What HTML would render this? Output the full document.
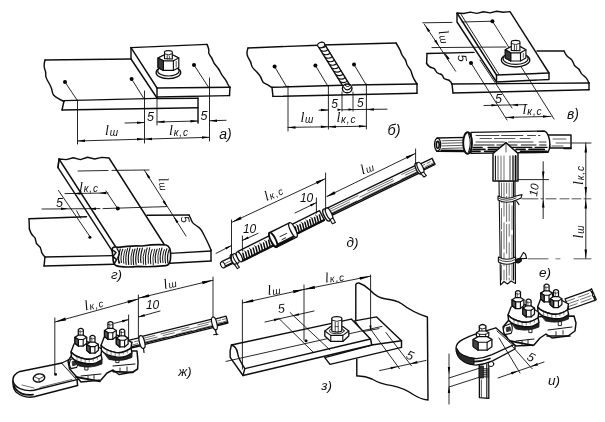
<!DOCTYPE html>
<html lang="ru"><head><meta charset="utf-8"><title>Соединения шин и жил кабелей</title>
<style>
html,body{margin:0;padding:0;background:#fff;}
body{width:605px;height:422px;overflow:hidden;}
svg{display:block;}
svg text{font-family:"Liberation Sans","DejaVu Sans",sans-serif;font-style:italic;fill:#111;stroke:none;}
</style></head><body>
<svg width="605" height="422" viewBox="0 0 605 422">
<defs><filter id="b" x="-2%" y="-2%" width="104%" height="104%"><feGaussianBlur stdDeviation="0.45"/></filter></defs>
<rect width="605" height="422" fill="#fff"/>
<g fill="none" stroke="#111" stroke-linecap="round" stroke-linejoin="round" filter="url(#b)">
<path d="M131,59 L45,60" fill="none" stroke-width="1.45"/>
<path d="M45,60 Q43.4,66 44.7,69 Q46,72 45.7,74.5 Q45.4,77 47.2,80 Q49,83 50.5,86 Q52,89 52.3,92 Q52.6,95 55.3,96.7 Q58,98.4 61,100 L64,101.5" fill="none" stroke-width="1.45"/>
<line x1="64" y1="101" x2="62" y2="110" stroke-width="1.45"/>
<line x1="64" y1="100.6" x2="157" y2="98.4" stroke-width="1.45"/>
<line x1="62" y1="110" x2="198" y2="107.8" stroke-width="1.45"/>
<line x1="157" y1="98.6" x2="198" y2="98.2" stroke-width="1.45"/>
<line x1="131" y1="47.6" x2="207" y2="44.4" stroke-width="1.45"/>
<path d="M207,44.4 Q209.4,50 208.7,51.5 Q208,53 210,55.5 Q212,58 212.8,60.5 Q213.6,63 216.3,66 Q219,69 220.3,72 Q221.6,75 223.8,77.5 Q226,80 226.8,82 Q227.6,84 228.8,85.8 L230,87.5" fill="none" stroke-width="1.45"/>
<line x1="131" y1="47.6" x2="157" y2="88" stroke-width="1.45"/>
<line x1="131" y1="47.6" x2="131" y2="59" stroke-width="1.45"/>
<line x1="131" y1="59" x2="157" y2="98" stroke-width="1.45"/>
<line x1="157" y1="88" x2="230" y2="87.2" stroke-width="1.45"/>
<line x1="157" y1="97" x2="229.5" y2="95.6" stroke-width="1.45"/>
<line x1="230" y1="87.2" x2="229.5" y2="95.6" stroke-width="1.45"/>
<line x1="157" y1="88" x2="157" y2="97" stroke-width="1.45"/>
<ellipse cx="168.4" cy="72.4" rx="12.3" ry="6.2" fill="#fff" stroke-width="1.3499999999999999"/>
<ellipse cx="168.4" cy="71" rx="10.7" ry="5" fill="#fff" stroke-width="1.15"/>
<polygon points="158,58 158,67.6 163.4,70.4 173.4,70.4 178.8,67.6 178.8,58 173.4,55.2 163.4,55.2" fill="#fff" stroke-width="1.15"/>
<polygon points="158,58 163.4,55.2 173.4,55.2 178.8,58 173.4,60.8 163.4,60.8" fill="#fff" stroke-width="1.15"/>
<line x1="163.4" y1="60.8" x2="163.4" y2="70.4" stroke-width="1.15"/>
<line x1="173.4" y1="60.8" x2="173.4" y2="70.4" stroke-width="1.15"/>
<polygon points="158,58 163.4,60.8 163.4,70.4 158,67.6" fill="#3a3a3a" stroke-width="1.15"/>
<line x1="176.2" y1="61.4" x2="176.2" y2="67" stroke-width="0.7"/>
<path d="M164.5,58.6 L164.5,52.2 Q164.5,50.6 168.4,50.6 Q172.3,50.6 172.3,52.2 L172.3,59 Z" fill="#fff" stroke-width="1.15"/>
<path d="M164.5,53.8 Q168.4,56.2 172.3,53.8" fill="none" stroke-width="0.9199999999999999"/>
<line x1="167.2" y1="55.6" x2="167.2" y2="59" stroke-width="0.8049999999999999"/>
<line x1="169.4" y1="56" x2="169.4" y2="59" stroke-width="0.69"/>
<circle cx="65" cy="82" r="2.0" fill="#000" stroke="none"/>
<line x1="65" y1="82" x2="77" y2="100" stroke-width="0.9"/>
<circle cx="131.6" cy="79" r="2.0" fill="#000" stroke="none"/>
<line x1="131.6" y1="79" x2="143.5" y2="98" stroke-width="0.9"/>
<circle cx="194" cy="65" r="2.0" fill="#000" stroke="none"/>
<line x1="194" y1="65" x2="209" y2="88" stroke-width="0.9"/>
<line x1="77.5" y1="100" x2="77.5" y2="144" stroke-width="0.9"/>
<line x1="144.5" y1="91" x2="144.5" y2="143" stroke-width="0.9"/>
<line x1="157" y1="97" x2="157" y2="125" stroke-width="0.9"/>
<line x1="198" y1="98" x2="198" y2="123" stroke-width="1.45"/>
<line x1="209.5" y1="78" x2="209.5" y2="141" stroke-width="0.9"/>
<line x1="125" y1="123" x2="144.5" y2="122.5" stroke-width="0.9"/>
<polygon points="144.5,122.5 137,123.9 137,121.4" fill="#000" stroke="none"/>
<line x1="157" y1="122" x2="198" y2="121" stroke-width="0.9"/>
<polygon points="157,122 164.5,120.6 164.5,123.1" fill="#000" stroke="none"/>
<polygon points="198,121 190.5,122.4 190.5,119.9" fill="#000" stroke="none"/>
<line x1="209.5" y1="120.8" x2="226" y2="120.3" stroke-width="0.9"/>
<polygon points="209.5,120.8 217,119.4 217,121.9" fill="#000" stroke="none"/>
<line x1="77.5" y1="141" x2="209.5" y2="137.3" stroke-width="0.9"/>
<polygon points="77.5,141 85,139.6 85,142.1" fill="#000" stroke="none"/>
<polygon points="144.5,139.1 137,140.5 137,138" fill="#000" stroke="none"/>
<polygon points="144.5,139.1 152,137.7 152,140.2" fill="#000" stroke="none"/>
<polygon points="209.5,137.3 202,138.7 202,136.2" fill="#000" stroke="none"/>
<text x="150.5" y="121" font-size="12.5" text-anchor="middle">5</text>
<text x="204" y="120.4" font-size="12.5" text-anchor="middle">5</text>
<text x="105" y="135.3" font-size="13" text-anchor="start"><tspan font-family="Liberation Serif, serif" font-size="14">l</tspan><tspan font-size="10" dx="0.8" dy="0.6" letter-spacing="0.9">ш</tspan></text>
<text x="169" y="135.3" font-size="13" text-anchor="start"><tspan font-family="Liberation Serif, serif" font-size="14">l</tspan><tspan font-size="10" dx="0.8" dy="0.6" letter-spacing="0.9">к,с</tspan></text>
<text x="225.5" y="139.2" font-size="14" text-anchor="middle">а)</text>
<line x1="248" y1="48" x2="318" y2="45.2" stroke-width="1.45"/>
<line x1="322" y1="45" x2="396" y2="43" stroke-width="1.45"/>
<path d="M248,48 Q246.6,52 247.1,54.5 Q247.6,57 249.3,59.5 Q251,62 251.3,64.5 Q251.6,67 254.3,69.5 Q257,72 259,74.5 Q261,77 261.8,79.7 Q262.6,82.4 265.3,83.7 Q268,85 270,86.3 L272,87.6" fill="none" stroke-width="1.45"/>
<line x1="272" y1="87.5" x2="273" y2="96.4" stroke-width="1.45"/>
<path d="M396,43 Q400.4,50 401,52.5 Q401.6,55 403.8,57.5 Q406,60 406.3,62.5 Q406.6,65 408.8,67.5 Q411,70 411.8,73.5 Q412.6,77 414.8,80.5 L417,84" fill="none" stroke-width="1.45"/>
<line x1="272" y1="87.3" x2="342" y2="85.2" stroke-width="1.45"/>
<line x1="352" y1="85" x2="417" y2="84" stroke-width="1.45"/>
<line x1="273" y1="96.4" x2="417" y2="93.2" stroke-width="1.45"/>
<line x1="417" y1="84" x2="417" y2="93.2" stroke-width="1.45"/>
<line x1="321.6" y1="45.6" x2="346.6" y2="86" stroke-width="8" stroke="#111"/>
<line x1="321.6" y1="45.6" x2="346.6" y2="86" stroke-width="5.2" stroke="#fff"/>
<path d="M318.7,47 Q322.4,48.9 325.8,46.3" fill="none" stroke-width="1.1"/>
<path d="M320.8,50.5 Q324.6,52.4 328,49.8" fill="none" stroke-width="1.1"/>
<path d="M323,53.9 Q326.8,55.8 330.1,53.3" fill="none" stroke-width="1.1"/>
<path d="M325.1,57.4 Q328.9,59.3 332.3,56.8" fill="none" stroke-width="1.1"/>
<path d="M327.3,60.9 Q331.1,62.8 334.4,60.3" fill="none" stroke-width="1.1"/>
<path d="M329.5,64.4 Q333.2,66.3 336.6,63.7" fill="none" stroke-width="1.1"/>
<path d="M331.6,67.9 Q335.4,69.8 338.7,67.2" fill="none" stroke-width="1.1"/>
<path d="M333.8,71.3 Q337.5,73.3 340.9,70.7" fill="none" stroke-width="1.1"/>
<path d="M335.9,74.8 Q339.7,76.7 343.1,74.2" fill="none" stroke-width="1.1"/>
<path d="M338.1,78.3 Q341.8,80.2 345.2,77.7" fill="none" stroke-width="1.1"/>
<path d="M340.2,81.8 Q344,83.7 347.4,81.1" fill="none" stroke-width="1.1"/>
<path d="M342.4,85.3 Q346.2,87.2 349.5,84.6" fill="none" stroke-width="1.1"/>
<ellipse cx="321.2" cy="45" rx="3.6" ry="2.6" fill="#fff" stroke-width="1.1" transform="rotate(-15 321.2 45)"/>
<ellipse cx="347.2" cy="88.4" rx="4.8" ry="4.4" fill="#fff" stroke-width="1.4"/>
<path d="M343.6,87 Q347,92.5 351,87.6" fill="none" stroke-width="1.1"/>
<path d="M344.6,84.6 Q347.4,88.6 350.4,85" fill="none" stroke-width="1.0"/>
<circle cx="274.6" cy="66.6" r="2.0" fill="#000" stroke="none"/>
<line x1="274.6" y1="66.6" x2="286.6" y2="86.8" stroke-width="0.9"/>
<circle cx="315.4" cy="65.4" r="2.0" fill="#000" stroke="none"/>
<line x1="315.4" y1="65.4" x2="327.8" y2="86" stroke-width="0.9"/>
<circle cx="354" cy="64.6" r="2.0" fill="#000" stroke="none"/>
<line x1="354" y1="64.6" x2="365.8" y2="84.2" stroke-width="0.9"/>
<line x1="288" y1="86" x2="288" y2="131" stroke-width="0.9"/>
<line x1="328.4" y1="86" x2="328.4" y2="129" stroke-width="0.9"/>
<line x1="342" y1="92" x2="342" y2="111" stroke-width="0.9"/>
<line x1="353" y1="92" x2="353" y2="111" stroke-width="0.9"/>
<line x1="366.4" y1="84" x2="366.4" y2="129" stroke-width="0.9"/>
<line x1="319" y1="110.2" x2="328.4" y2="110" stroke-width="0.9"/>
<polygon points="328.4,110 320.9,111.2 320.9,108.8" fill="#000" stroke="none"/>
<line x1="342" y1="109.8" x2="366.4" y2="109.4" stroke-width="0.9"/>
<polygon points="342,109.8 337.5,111 337.5,108.5" fill="#000" stroke="none"/>
<polygon points="353,109.6 348.5,110.8 348.5,108.3" fill="#000" stroke="none"/>
<line x1="366.4" y1="109.4" x2="387" y2="109.2" stroke-width="0.9"/>
<polygon points="366.4,109.4 373.9,108.2 373.9,110.7" fill="#000" stroke="none"/>
<line x1="288" y1="127.4" x2="366.4" y2="126.2" stroke-width="0.9"/>
<polygon points="288,127.4 295.5,126.2 295.5,128.7" fill="#000" stroke="none"/>
<polygon points="328.4,126.8 320.9,128.1 320.9,125.5" fill="#000" stroke="none"/>
<polygon points="328.4,126.8 335.9,125.5 335.9,128.1" fill="#000" stroke="none"/>
<polygon points="366.4,126.2 358.9,127.5 358.9,125" fill="#000" stroke="none"/>
<text x="334.7" y="107.6" font-size="12" text-anchor="middle">5</text>
<text x="360.4" y="107.2" font-size="12" text-anchor="middle">5</text>
<text x="300.4" y="122" font-size="13" text-anchor="start"><tspan font-family="Liberation Serif, serif" font-size="14">l</tspan><tspan font-size="10" dx="0.8" dy="0.6" letter-spacing="0.9">ш</tspan></text>
<text x="336.4" y="122" font-size="13" text-anchor="start"><tspan font-family="Liberation Serif, serif" font-size="14">l</tspan><tspan font-size="10" dx="0.8" dy="0.6" letter-spacing="0.9">к,с</tspan></text>
<text x="394" y="135" font-size="14.5" text-anchor="middle">б)</text>
<path d="M426.6,63.5 Q429.4,67.5 432.1,67.8 Q434.8,68.2 435.7,70.8 Q436.6,73.4 439.3,73.7 Q442.1,73.9 443,76.6 Q443.8,79.3 446.6,79.5 Q449.4,79.8 450.7,81.9 L452,84" fill="none" stroke-width="1.45"/>
<line x1="427" y1="53.5" x2="426.6" y2="63.5" stroke-width="1.45"/>
<line x1="427" y1="53.5" x2="474" y2="52.4" stroke-width="1.45"/>
<line x1="452" y1="84" x2="453" y2="93" stroke-width="1.45"/>
<line x1="452" y1="84" x2="589" y2="83" stroke-width="1.45"/>
<line x1="453" y1="93" x2="589" y2="89.8" stroke-width="1.45"/>
<line x1="589" y1="83" x2="589" y2="89.8" stroke-width="1.45"/>
<line x1="537" y1="51" x2="564" y2="51" stroke-width="1.45"/>
<path d="M564,51 Q566.4,56.5 569.4,57.8 Q572.3,59.2 573.1,62.3 Q573.8,65.4 576.4,67.1 Q579.1,68.7 580.2,71.5 Q581.3,74.3 583.9,75.9 Q586.5,77.6 587.7,80.3 L589,83" fill="none" stroke-width="1.45"/>
<polygon points="457,13 463.6,13.5 470.2,12.1 476.9,13.4 483.5,11.8 490.1,12.9 496.7,11.2 503.4,12.3 510,11.6 549,73 549,79.5 496.5,82 457,22" fill="#fff" stroke-width="1.45"/>
<line x1="457" y1="13" x2="496.5" y2="75" stroke-width="1.45"/>
<line x1="460.5" y1="13.5" x2="499" y2="74.5" stroke-width="0.9"/>
<line x1="496.5" y1="75" x2="549" y2="73" stroke-width="1.45"/>
<line x1="496.5" y1="75" x2="496.5" y2="82" stroke-width="1.45"/>
<line x1="422.8" y1="22.8" x2="452" y2="22.4" stroke-width="0.9"/>
<line x1="462" y1="22" x2="492.4" y2="21.2" stroke-width="0.9"/>
<line x1="432" y1="47.6" x2="506" y2="47" stroke-width="0.9"/>
<circle cx="492.4" cy="21.2" r="2.0" fill="#000" stroke="none"/>
<line x1="492.4" y1="21.2" x2="554" y2="119" stroke-width="0.9"/>
<circle cx="471" cy="63" r="2.0" fill="#000" stroke="none"/>
<line x1="471" y1="63" x2="507" y2="120" stroke-width="0.9"/>
<line x1="480" y1="60" x2="512" y2="108" stroke-width="0.9"/>
<ellipse cx="515.6" cy="60" rx="14.2" ry="7" fill="#fff" stroke-width="1.3499999999999999"/>
<ellipse cx="515.6" cy="58.6" rx="12.6" ry="5.8" fill="#fff" stroke-width="1.15"/>
<polygon points="505.3,49.8 505.3,58 510.7,61 520.5,61 525.9,58 525.9,49.8 520.5,46.8 510.7,46.8" fill="#fff" stroke-width="1.15"/>
<polygon points="505.3,49.8 510.7,46.8 520.5,46.8 525.9,49.8 520.5,52.8 510.7,52.8" fill="#fff" stroke-width="1.15"/>
<line x1="510.7" y1="52.8" x2="510.7" y2="61" stroke-width="1.15"/>
<line x1="520.5" y1="52.8" x2="520.5" y2="61" stroke-width="1.15"/>
<polygon points="505.3,49.8 510.7,52.8 510.7,61 505.3,58" fill="#3a3a3a" stroke-width="1.15"/>
<line x1="523.3" y1="53.4" x2="523.3" y2="57.4" stroke-width="0.7"/>
<path d="M511.3,50.4 L511.3,41.9 Q511.3,40.3 515.6,40.3 Q519.9,40.3 519.9,41.9 L519.9,50.8 Z" fill="#fff" stroke-width="1.15"/>
<path d="M511.3,43.5 Q515.6,45.9 519.9,43.5" fill="none" stroke-width="0.9199999999999999"/>
<line x1="514.4" y1="45.3" x2="514.4" y2="50.8" stroke-width="0.8049999999999999"/>
<line x1="516.6" y1="45.7" x2="516.6" y2="50.8" stroke-width="0.69"/>
<line x1="424.3" y1="24.2" x2="455.6" y2="71.2" stroke-width="0.9"/>
<polygon points="425,25.2 430.2,30.7 428.1,32.1" fill="#000" stroke="none"/>
<polygon points="439,46.2 434.1,41.1 436.2,39.7" fill="#000" stroke="none"/>
<polygon points="443.6,51.6 449.6,58.4 447.6,59.8" fill="#000" stroke="none"/>
<text x="438.4" y="31.6" font-size="13" text-anchor="start" transform="rotate(75 438.4 31.6)"><tspan font-family="Liberation Serif, serif" font-size="14">l</tspan><tspan font-size="10" dx="0.8" dy="0.6" letter-spacing="0.9">ш</tspan></text>
<text x="458" y="58.6" font-size="12.5" text-anchor="middle" transform="rotate(82 458 58.6)">5</text>
<line x1="484" y1="105.5" x2="527" y2="104.6" stroke-width="0.9"/>
<polygon points="497.5,105.2 491.5,106.5 491.5,104" fill="#000" stroke="none"/>
<polygon points="512,104.9 518,103.7 518,106.2" fill="#000" stroke="none"/>
<line x1="506" y1="117.4" x2="551" y2="116.4" stroke-width="0.9"/>
<polygon points="506.5,117.4 514,116.2 514,118.7" fill="#000" stroke="none"/>
<polygon points="550.5,116.4 543,117.7 543,115.2" fill="#000" stroke="none"/>
<text x="498.6" y="103.2" font-size="12.5" text-anchor="middle">5</text>
<text x="522.6" y="114" font-size="13" text-anchor="start"><tspan font-family="Liberation Serif, serif" font-size="14">l</tspan><tspan font-size="10" dx="0.8" dy="0.6" letter-spacing="0.9">к,с</tspan></text>
<text x="573" y="119.4" font-size="14" text-anchor="middle">в)</text>
<path d="M29.4,229 Q31,234.2 33.3,236 Q35.7,237.7 35.7,240.8 Q35.8,243.8 38.3,245.4 Q40.8,247.1 41.1,250 Q41.3,252.9 43.2,255 L45,257" fill="none" stroke-width="1.45"/>
<line x1="29" y1="218.8" x2="29.4" y2="229" stroke-width="1.45"/>
<line x1="29" y1="218.8" x2="86.5" y2="216.8" stroke-width="1.45"/>
<line x1="45" y1="257" x2="44" y2="266" stroke-width="1.45"/>
<line x1="45" y1="257" x2="113" y2="255.6" stroke-width="1.45"/>
<line x1="44" y1="266" x2="114" y2="264.2" stroke-width="1.45"/>
<line x1="147" y1="215.2" x2="189" y2="215" stroke-width="1.45"/>
<path d="M189,215 Q191,219 191.7,221 Q192.4,223 194.7,224.5 Q197,226 198.8,227.3 Q200.6,228.6 201.8,230.8 Q203,233 204,235 Q205,237 206.5,240 Q208,243 209.5,246.5 L211,250" fill="none" stroke-width="1.45"/>
<line x1="170" y1="253.4" x2="211" y2="251" stroke-width="1.45"/>
<line x1="170" y1="263.2" x2="211" y2="261" stroke-width="1.45"/>
<line x1="211" y1="250" x2="211" y2="261" stroke-width="1.45"/>
<polygon points="59,159 66.2,159.6 73.3,157.7 80.4,159.6 87.5,157.3 94.7,159 101.8,157.4 109,158 169,252 113,252.2 58,167.7" fill="#fff" stroke-width="1.45"/>
<line x1="59" y1="159" x2="116.4" y2="248" stroke-width="1.45"/>
<line x1="59" y1="159" x2="58" y2="167.7" stroke-width="1.45"/>
<path d="M112,250 Q112,246 118,247.4 Q130,245.4 142,246 Q156,244 166,245 Q171,246.4 170.6,256 Q170.6,265 166,265.6 Q150,267.4 138,266.4 Q128,267.6 119,266.4 Q112.6,266 113,257 Z" fill="#fff" stroke-width="1.65"/>
<path d="M120.3,249 Q117.7,257.4 118.9,263.1" fill="none" stroke-width="1.182735085133115"/>
<path d="M122.8,249.2 Q120.2,255.1 121.4,262.6" fill="none" stroke-width="1.0396867963134315"/>
<path d="M125.2,249.7 Q122.6,257.7 123.8,263.3" fill="none" stroke-width="0.9339617893959433"/>
<path d="M127.6,248.6 Q125,256.6 126.2,264.4" fill="none" stroke-width="1.0721823563784303"/>
<path d="M130.1,247.6 Q127.5,255.8 128.7,264.4" fill="none" stroke-width="1.1749036115425655"/>
<path d="M132.6,249.3 Q129.9,257.4 131.2,264.6" fill="none" stroke-width="0.941630225519671"/>
<path d="M135,249 Q132.4,255 133.6,264.7" fill="none" stroke-width="1.1614214234172846"/>
<path d="M137.5,248.1 Q134.8,257.9 136.1,264.4" fill="none" stroke-width="1.1617223296310406"/>
<path d="M139.9,248.2 Q137.3,256.6 138.5,262.5" fill="none" stroke-width="1.1033491431751776"/>
<path d="M142.4,248.1 Q139.8,257.1 141,262.6" fill="none" stroke-width="1.1899692936951587"/>
<path d="M144.8,249.6 Q142.2,256.1 143.4,264.2" fill="none" stroke-width="0.9497868171389237"/>
<path d="M147.2,247.9 Q144.6,255.9 145.8,264.8" fill="none" stroke-width="1.0809329992222962"/>
<path d="M149.7,247.6 Q147.1,256 148.3,263.2" fill="none" stroke-width="0.9929873794809386"/>
<path d="M152.2,249.4 Q149.5,255.9 150.8,263.8" fill="none" stroke-width="1.0443655158710592"/>
<path d="M154.6,249.2 Q152,257.9 153.2,264.9" fill="none" stroke-width="0.9068596689758163"/>
<path d="M157.1,249.2 Q154.4,255.1 155.7,262.8" fill="none" stroke-width="1.1363214911941304"/>
<path d="M159.5,248.4 Q156.9,255 158.1,263.5" fill="none" stroke-width="0.9140181356096825"/>
<path d="M162,248 Q159.3,255.6 160.6,262.5" fill="none" stroke-width="1.1267209237353955"/>
<path d="M164.4,249.6 Q161.8,256 163,262.6" fill="none" stroke-width="1.0064379615173737"/>
<path d="M166.9,248.8 Q164.2,255.3 165.5,263" fill="none" stroke-width="1.124519416945399"/>
<path d="M169.3,249.4 Q166.7,255.1 167.9,262.8" fill="none" stroke-width="1.1837400555126552"/>
<path d="M112.6,250 L116,252.6 L113,256.4 L116.6,259.6 L114,264" fill="none" stroke-width="1.5"/>
<path d="M117,248.6 L119.6,253 L117.6,258 L119.6,263" fill="none" stroke-width="1.2"/>
<line x1="78" y1="171" x2="108" y2="170.5" stroke-width="0.9"/>
<line x1="112" y1="170.4" x2="149" y2="170" stroke-width="0.9"/>
<line x1="65" y1="193.6" x2="108" y2="193" stroke-width="0.9"/>
<polygon points="73.5,193.5 80.5,192.2 80.5,194.8" fill="#000" stroke="none"/>
<polygon points="99,193.1 106,191.8 106,194.3" fill="#000" stroke="none"/>
<line x1="42" y1="209" x2="100" y2="208.6" stroke-width="0.9"/>
<line x1="103" y1="208.6" x2="166.4" y2="206.6" stroke-width="0.9"/>
<polygon points="68,208.8 61,210.1 61,207.6" fill="#000" stroke="none"/>
<polygon points="89,208.7 96,207.4 96,209.9" fill="#000" stroke="none"/>
<circle cx="117.8" cy="208.6" r="2.0" fill="#000" stroke="none"/>
<line x1="58.5" y1="190.5" x2="89.9" y2="236.5" stroke-width="0.9"/>
<line x1="106" y1="191" x2="118" y2="209" stroke-width="0.9"/>
<line x1="76.6" y1="210.8" x2="80.7" y2="218.2" stroke-width="0.9"/>
<circle cx="89.9" cy="237.3" r="1.5" fill="#000" stroke="none"/>
<line x1="144.5" y1="170.4" x2="186" y2="236" stroke-width="0.9"/>
<polygon points="145.2,171.6 150.3,177.3 148.2,178.6" fill="#000" stroke="none"/>
<polygon points="167.6,207.4 162.5,201.7 164.6,200.4" fill="#000" stroke="none"/>
<polygon points="173.4,216 178.5,221.7 176.4,223" fill="#000" stroke="none"/>
<text x="79" y="191.5" font-size="13" text-anchor="start"><tspan font-family="Liberation Serif, serif" font-size="14">l</tspan><tspan font-size="10" dx="0.8" dy="0.6" letter-spacing="0.9">к,с</tspan></text>
<text x="59.4" y="207" font-size="12.5" text-anchor="middle">5</text>
<text x="158.6" y="178.4" font-size="13" text-anchor="start" transform="rotate(80 158.6 178.4)"><tspan font-family="Liberation Serif, serif" font-size="14">l</tspan><tspan font-size="10" dx="0.8" dy="0.6" letter-spacing="0.9">ш</tspan></text>
<text x="181" y="220" font-size="12" text-anchor="middle" transform="rotate(80 181 220)">5</text>
<text x="116.5" y="279" font-size="13.5" text-anchor="middle">г)</text>
<polygon points="329.8,216.3 420.8,172.3 417.2,164.7 326.2,208.7" fill="#fff" stroke-width="1.4"/>
<line x1="327.1" y1="210.6" x2="358" y2="195.6" stroke-width="0.6"/>
<line x1="367.7" y1="190.9" x2="392.8" y2="178.9" stroke-width="0.6"/>
<line x1="401.7" y1="174.5" x2="418.1" y2="166.6" stroke-width="0.6"/>
<line x1="328" y1="212.5" x2="349.5" y2="202.1" stroke-width="0.6"/>
<line x1="359.8" y1="197.1" x2="393.5" y2="180.8" stroke-width="0.6"/>
<line x1="405.5" y1="175" x2="419" y2="168.5" stroke-width="0.6"/>
<line x1="328.9" y1="214.4" x2="356.8" y2="200.9" stroke-width="0.6"/>
<line x1="362.6" y1="198.1" x2="392.1" y2="183.8" stroke-width="0.6"/>
<line x1="401.1" y1="179.5" x2="419.9" y2="170.4" stroke-width="0.6"/>
<line x1="329.3" y1="215.2" x2="420.3" y2="171.2" stroke-width="1.3"/>
<polygon points="421.9,170.9 435.1,164.5 432.1,158.3 418.9,164.7" fill="#fff" stroke-width="1.3"/>
<line x1="419.9" y1="166.8" x2="424.7" y2="164.4" stroke-width="0.6"/>
<line x1="427" y1="163.4" x2="430.4" y2="161.7" stroke-width="0.6"/>
<line x1="432.3" y1="160.8" x2="433.1" y2="160.4" stroke-width="0.6"/>
<line x1="420.9" y1="168.8" x2="424.1" y2="167.3" stroke-width="0.6"/>
<line x1="425.5" y1="166.6" x2="429.4" y2="164.7" stroke-width="0.6"/>
<line x1="430.9" y1="164" x2="434.1" y2="162.4" stroke-width="0.6"/>
<line x1="421.5" y1="170" x2="434.7" y2="163.6" stroke-width="1.3"/>
<ellipse cx="418.6" cy="168.6" rx="2.5" ry="6" fill="#fff" stroke-width="1.4" transform="rotate(-26.6 418.6 168.6)"/>
<ellipse cx="420.4" cy="167.8" rx="2.5" ry="6" fill="#fff" stroke-width="1.2" transform="rotate(-26.6 420.4 167.8)"/>
<polygon points="420.6,173.4 424,177 426.4,175.6 423.4,172" fill="#fff" stroke-width="1.1"/>
<polygon points="243,261.2 276.5,244.4 271.5,234.6 238,251.3" fill="#fff" stroke-width="1.3"/>
<line x1="244.6" y1="260" x2="242.9" y2="253.2" stroke-width="1.5"/>
<line x1="247.2" y1="258.7" x2="245.5" y2="251.9" stroke-width="1.5"/>
<line x1="244.4" y1="251.2" x2="244.1" y2="250.6" stroke-width="0.8"/>
<line x1="249.8" y1="257.5" x2="248" y2="250.6" stroke-width="1.5"/>
<line x1="252.3" y1="256.2" x2="250.6" y2="249.4" stroke-width="1.5"/>
<line x1="249.6" y1="248.6" x2="249.3" y2="248" stroke-width="0.8"/>
<line x1="254.9" y1="254.9" x2="253.2" y2="248.1" stroke-width="1.5"/>
<line x1="257.5" y1="253.6" x2="255.8" y2="246.8" stroke-width="1.5"/>
<line x1="254.7" y1="246.1" x2="254.4" y2="245.5" stroke-width="0.8"/>
<line x1="260.1" y1="252.3" x2="258.3" y2="245.5" stroke-width="1.5"/>
<line x1="262.6" y1="251" x2="260.9" y2="244.2" stroke-width="1.5"/>
<line x1="259.9" y1="243.5" x2="259.6" y2="242.9" stroke-width="0.8"/>
<line x1="265.2" y1="249.7" x2="263.5" y2="242.9" stroke-width="1.5"/>
<line x1="267.8" y1="248.4" x2="266.1" y2="241.6" stroke-width="1.5"/>
<line x1="265" y1="240.9" x2="264.7" y2="240.3" stroke-width="0.8"/>
<line x1="270.4" y1="247.2" x2="268.6" y2="240.3" stroke-width="1.5"/>
<line x1="273" y1="245.9" x2="271.2" y2="239" stroke-width="1.5"/>
<line x1="270.2" y1="238.3" x2="269.9" y2="237.7" stroke-width="0.8"/>
<line x1="242.6" y1="260.4" x2="276.1" y2="243.7" stroke-width="1.6"/>
<polygon points="295.5,234.9 324.5,220.4 319.5,210.6 290.5,225.1" fill="#fff" stroke-width="1.3"/>
<line x1="296.9" y1="233.9" x2="295.2" y2="227" stroke-width="1.5"/>
<line x1="299.4" y1="232.7" x2="297.6" y2="225.8" stroke-width="1.5"/>
<line x1="296.6" y1="225.1" x2="296.3" y2="224.5" stroke-width="0.8"/>
<line x1="301.8" y1="231.5" x2="300" y2="224.6" stroke-width="1.5"/>
<line x1="304.2" y1="230.2" x2="302.5" y2="223.4" stroke-width="1.5"/>
<line x1="301.4" y1="222.7" x2="301.1" y2="222.1" stroke-width="0.8"/>
<line x1="306.6" y1="229" x2="304.9" y2="222.2" stroke-width="1.5"/>
<line x1="309" y1="227.8" x2="307.3" y2="221" stroke-width="1.5"/>
<line x1="306.3" y1="220.3" x2="306" y2="219.7" stroke-width="0.8"/>
<line x1="311.4" y1="226.6" x2="309.7" y2="219.8" stroke-width="1.5"/>
<line x1="313.9" y1="225.4" x2="312.1" y2="218.6" stroke-width="1.5"/>
<line x1="311.1" y1="217.9" x2="310.8" y2="217.3" stroke-width="0.8"/>
<line x1="316.3" y1="224.2" x2="314.5" y2="217.4" stroke-width="1.5"/>
<line x1="318.7" y1="223" x2="317" y2="216.2" stroke-width="1.5"/>
<line x1="315.9" y1="215.5" x2="315.6" y2="214.9" stroke-width="0.8"/>
<line x1="321.1" y1="221.8" x2="319.4" y2="215" stroke-width="1.5"/>
<line x1="295.1" y1="234.2" x2="324.1" y2="219.7" stroke-width="1.6"/>
<polygon points="276.2,247.4 296.6,237.2 289.4,222.8 269,233" fill="#fff" stroke-width="1.5"/>
<line x1="275.2" y1="245.4" x2="295.6" y2="235.2" stroke-width="1.3"/>
<ellipse cx="273.2" cy="239.9" rx="2.5" ry="8" fill="#fff" stroke-width="1.8" transform="rotate(-26.6 273.2 239.9)"/>
<ellipse cx="293" cy="230" rx="2.5" ry="8" fill="#fff" stroke-width="1.3" transform="rotate(-26.6 293 230)"/>
<line x1="280" y1="236.6" x2="286.6" y2="233.4" stroke-width="0.9"/>
<line x1="282" y1="239.6" x2="285.6" y2="237.8" stroke-width="0.9"/>
<line x1="276" y1="246.4" x2="293" y2="238" stroke-width="2.0"/>
<polygon points="224.4,267.5 233.4,263.1 230.6,257.3 221.6,261.7" fill="#fff" stroke-width="1.3"/>
<line x1="223" y1="264.6" x2="225.6" y2="263.3" stroke-width="0.6"/>
<line x1="226.4" y1="262.9" x2="228.9" y2="261.7" stroke-width="0.6"/>
<line x1="229.5" y1="261.4" x2="231.3" y2="260.5" stroke-width="0.6"/>
<line x1="224" y1="266.7" x2="233" y2="262.3" stroke-width="1.3"/>
<ellipse cx="222.8" cy="264.8" rx="2" ry="3.2" fill="#fff" stroke-width="1.1" transform="rotate(-26.6 222.8 264.8)"/>
<ellipse cx="233.6" cy="259.6" rx="2.3" ry="5.6" fill="#fff" stroke-width="1.4" transform="rotate(-26.6 233.6 259.6)"/>
<ellipse cx="236" cy="258.4" rx="2" ry="5.2" fill="#fff" stroke-width="1.1" transform="rotate(-26.6 236 258.4)"/>
<ellipse cx="239.4" cy="256.8" rx="2.2" ry="5.4" fill="#fff" stroke-width="1.3" transform="rotate(-26.6 239.4 256.8)"/>
<polygon points="234.4,264.4 237.4,268.6 239.4,267.4 236.6,263.4" fill="#fff" stroke-width="1.1"/>
<ellipse cx="326.6" cy="215" rx="2.6" ry="6.6" fill="#fff" stroke-width="1.4" transform="rotate(-26.6 326.6 215)"/>
<ellipse cx="329" cy="213.8" rx="2.5" ry="6.4" fill="#fff" stroke-width="1.3" transform="rotate(-26.6 329 213.8)"/>
<polygon points="330,219.4 332.4,223.8 335.4,222.6 333,218" fill="#fff" stroke-width="1.1"/>
<line x1="231.5" y1="220" x2="231.5" y2="260" stroke-width="0.9"/>
<line x1="242.4" y1="236" x2="242.4" y2="251" stroke-width="0.9"/>
<line x1="316.4" y1="198" x2="316.4" y2="213" stroke-width="0.9"/>
<line x1="325.6" y1="173" x2="325.6" y2="210" stroke-width="0.9"/>
<line x1="415.6" y1="149" x2="415.6" y2="163" stroke-width="0.9"/>
<line x1="232" y1="222.2" x2="325.6" y2="178.6" stroke-width="0.9"/>
<polygon points="232,222.2 240.4,216.6 241.7,219.3" fill="#000" stroke="none"/>
<polygon points="325.6,178.6 317.2,184.2 315.9,181.5" fill="#000" stroke="none"/>
<line x1="327" y1="196.4" x2="415.4" y2="153.4" stroke-width="0.9"/>
<polygon points="326,196.9 334.3,191.2 335.6,193.9" fill="#000" stroke="none"/>
<polygon points="415.4,153.4 407.1,159.1 405.8,156.4" fill="#000" stroke="none"/>
<line x1="216" y1="253.4" x2="231.5" y2="245.6" stroke-width="0.9"/>
<polygon points="231.5,245.6 226.2,249.6 225.1,247.4" fill="#000" stroke="none"/>
<line x1="242.4" y1="240.4" x2="258" y2="233.4" stroke-width="0.9"/>
<polygon points="242.4,240.4 247.7,236.4 248.8,238.6" fill="#000" stroke="none"/>
<line x1="295" y1="213" x2="316.4" y2="202.6" stroke-width="0.9"/>
<polygon points="316.4,202.6 311.1,206.6 310,204.4" fill="#000" stroke="none"/>
<text x="249.6" y="233.4" font-size="12" text-anchor="middle">10</text>
<text x="306.6" y="202" font-size="12" text-anchor="middle">10</text>
<text x="266.6" y="201" font-size="13" text-anchor="start" transform="rotate(-24 266.6 201)"><tspan font-family="Liberation Serif, serif" font-size="14">l</tspan><tspan font-size="10" dx="0.8" dy="0.6" letter-spacing="0.9">к,с</tspan></text>
<text x="362.6" y="174.5" font-size="13" text-anchor="start" transform="rotate(-22 362.6 174.5)"><tspan font-family="Liberation Serif, serif" font-size="14">l</tspan><tspan font-size="10" dx="0.8" dy="0.6" letter-spacing="0.9">ш</tspan></text>
<text x="352.6" y="247" font-size="13.5" text-anchor="middle">д)</text>
<path d="M437,138 Q434,144.5 437,151.4 L466,151.6 L466,137.4 Z" fill="#fff" stroke-width="1.45"/>
<ellipse cx="437.6" cy="144.6" rx="3" ry="6.4" fill="#fff" stroke-width="1.4"/>
<ellipse cx="437.8" cy="144.8" rx="1.4" ry="3.4" fill="#fff" stroke-width="1.6"/>
<line x1="442" y1="140.8" x2="464" y2="140.2" stroke-width="0.7"/>
<line x1="442" y1="143.3" x2="464" y2="142.7" stroke-width="0.7"/>
<line x1="442" y1="145.9" x2="464" y2="145.3" stroke-width="0.7"/>
<line x1="442" y1="148.5" x2="464" y2="147.9" stroke-width="0.7"/>
<line x1="441" y1="150.2" x2="466" y2="150.4" stroke-width="1.4"/>
<polygon points="548,135 571,135 571,148 550,148" fill="#fff" stroke-width="1.45"/>
<line x1="553" y1="139" x2="566" y2="139" stroke-width="0.7"/>
<line x1="556" y1="143" x2="570" y2="143" stroke-width="0.7"/>
<line x1="552" y1="146" x2="563" y2="146" stroke-width="0.7"/>
<line x1="564" y1="148.4" x2="571" y2="148.4" stroke-width="1.6"/>
<path d="M471,132.4 L544,131 Q548,132 549.5,140 Q550.6,148 548,152.4 L471,153.4 Z" fill="#fff" stroke-width="1.45"/>
<ellipse cx="467.6" cy="143" rx="4.4" ry="10.8" fill="#fff" stroke-width="1.9"/>
<path d="M468.6,134 Q472,143 468.6,152" fill="none" stroke-width="1.1"/>
<line x1="476" y1="135.5" x2="498.9" y2="135.5" stroke-width="0.8"/>
<line x1="501.6" y1="135.5" x2="522.8" y2="135.5" stroke-width="0.8"/>
<line x1="527.5" y1="135.5" x2="535.5" y2="135.5" stroke-width="0.8"/>
<line x1="538.5" y1="135.5" x2="540" y2="135.5" stroke-width="0.8"/>
<line x1="480" y1="138.5" x2="491.4" y2="138.5" stroke-width="0.7"/>
<line x1="494.4" y1="138.5" x2="514.8" y2="138.5" stroke-width="0.7"/>
<line x1="520.2" y1="138.5" x2="530" y2="138.5" stroke-width="0.7"/>
<line x1="476" y1="142" x2="504.4" y2="142" stroke-width="0.8"/>
<line x1="508.5" y1="142" x2="533" y2="142" stroke-width="0.8"/>
<line x1="539.2" y1="142" x2="546" y2="142" stroke-width="0.8"/>
<line x1="474" y1="145" x2="494.1" y2="145" stroke-width="1.0"/>
<line x1="496.9" y1="145" x2="517" y2="145" stroke-width="1.0"/>
<line x1="521.3" y1="145" x2="536" y2="145" stroke-width="1.0"/>
<line x1="539.6" y1="145" x2="546" y2="145" stroke-width="1.0"/>
<line x1="473" y1="147.4" x2="482.2" y2="147.4" stroke-width="1.3"/>
<line x1="488" y1="147.4" x2="505.3" y2="147.4" stroke-width="1.3"/>
<line x1="508.7" y1="147.4" x2="531.8" y2="147.4" stroke-width="1.3"/>
<line x1="535.1" y1="147.4" x2="547" y2="147.4" stroke-width="1.3"/>
<line x1="473" y1="149.4" x2="484.9" y2="149.4" stroke-width="1.7"/>
<line x1="488.4" y1="149.4" x2="509.8" y2="149.4" stroke-width="1.7"/>
<line x1="516.1" y1="149.4" x2="525.1" y2="149.4" stroke-width="1.7"/>
<line x1="529" y1="149.4" x2="544.3" y2="149.4" stroke-width="1.7"/>
<line x1="472" y1="151.4" x2="480" y2="151.4" stroke-width="1.7"/>
<line x1="484.7" y1="151.4" x2="499.2" y2="151.4" stroke-width="1.7"/>
<line x1="503.9" y1="151.4" x2="516" y2="151.4" stroke-width="1.7"/>
<line x1="520.6" y1="151.4" x2="547" y2="151.4" stroke-width="1.7"/>
<polygon points="499,181 515,181 515.5,283.5 511,281 507.5,284 504,281.5 500.5,285" fill="#fff" stroke-width="1.1"/>
<line x1="501.5" y1="183" x2="501.5" y2="202.3" stroke-width="0.6"/>
<line x1="501.5" y1="208.5" x2="501.5" y2="229.1" stroke-width="0.6"/>
<line x1="501.5" y1="231.6" x2="501.5" y2="258.2" stroke-width="0.6"/>
<line x1="501.5" y1="265.1" x2="501.5" y2="280" stroke-width="0.6"/>
<line x1="504" y1="183" x2="504" y2="216.2" stroke-width="0.6"/>
<line x1="504" y1="222.8" x2="504" y2="248.9" stroke-width="0.6"/>
<line x1="504" y1="253" x2="504" y2="265.6" stroke-width="0.6"/>
<line x1="504" y1="270.1" x2="504" y2="280" stroke-width="0.6"/>
<line x1="506.6" y1="183" x2="506.6" y2="193.3" stroke-width="0.6"/>
<line x1="506.6" y1="196.4" x2="506.6" y2="221.6" stroke-width="0.6"/>
<line x1="506.6" y1="224.5" x2="506.6" y2="253.2" stroke-width="0.6"/>
<line x1="506.6" y1="259.8" x2="506.6" y2="280" stroke-width="0.6"/>
<line x1="509.2" y1="183" x2="509.2" y2="199" stroke-width="0.6"/>
<line x1="509.2" y1="204.1" x2="509.2" y2="221.1" stroke-width="0.6"/>
<line x1="509.2" y1="224.1" x2="509.2" y2="236.2" stroke-width="0.6"/>
<line x1="509.2" y1="242.8" x2="509.2" y2="275.1" stroke-width="0.6"/>
<line x1="509.2" y1="278.2" x2="509.2" y2="280" stroke-width="0.6"/>
<line x1="512" y1="183" x2="512" y2="202.2" stroke-width="0.6"/>
<line x1="512" y1="205.9" x2="512" y2="229.6" stroke-width="0.6"/>
<line x1="512" y1="234.9" x2="512" y2="258.5" stroke-width="0.6"/>
<line x1="512" y1="264.1" x2="512" y2="280" stroke-width="0.6"/>
<line x1="513.6" y1="182" x2="513.6" y2="280" stroke-width="1.2"/>
<path d="M493,181 L493,153.5 L506,142.6 L518,153.5 L518,181 Z" fill="#fff" stroke-width="1.45"/>
<line x1="495.4" y1="156" x2="495.4" y2="180" stroke-width="1.1"/>
<line x1="498" y1="156" x2="498" y2="180" stroke-width="0.7"/>
<line x1="501" y1="156" x2="501" y2="180" stroke-width="0.6"/>
<line x1="504" y1="156" x2="504" y2="180" stroke-width="0.6"/>
<line x1="510" y1="156" x2="510" y2="180" stroke-width="0.8"/>
<line x1="513" y1="156" x2="513" y2="180" stroke-width="1.3"/>
<line x1="515.6" y1="156" x2="515.6" y2="180" stroke-width="1.8"/>
<line x1="506" y1="143.5" x2="506" y2="152" stroke-width="0.7"/>
<path d="M498,196 Q507,200.5 516,196 L522,194.6 L521,198 L516.4,200 Q507,204.5 498,200 Z" fill="#fff" stroke-width="1.1"/>
<path d="M498,198 Q507,202.5 516,198" fill="none" stroke-width="0.8"/>
<line x1="516.6" y1="201" x2="519" y2="204.6" stroke-width="1.2"/>
<path d="M498.4,257 Q507,261.5 515.6,257 L515.6,262 Q507,266.5 498.4,262 Z" fill="#fff" stroke-width="1.1"/>
<path d="M498.4,259.4 Q507,264 515.6,259.4" fill="none" stroke-width="0.8"/>
<ellipse cx="518.5" cy="260.6" rx="3" ry="2" fill="#222" stroke-width="1.2" transform="rotate(-25 518.5 260.6)"/>
<path d="M520,258.6 L523.4,252.4 L525.4,254 L526.6,258.4 Z" fill="#fff" stroke-width="1.1"/>
<line x1="571.6" y1="143" x2="591" y2="143" stroke-width="0.9"/>
<line x1="518" y1="179.6" x2="548.5" y2="179.6" stroke-width="0.9"/>
<line x1="522" y1="198.8" x2="556" y2="198.8" stroke-width="0.75" stroke-dasharray="16 3 2 3"/>
<line x1="560" y1="198.8" x2="591" y2="198.8" stroke-width="0.7" stroke-dasharray="9 3"/>
<line x1="528" y1="258.8" x2="548" y2="258.8" stroke-width="0.7"/>
<line x1="556" y1="258.8" x2="560" y2="258.8" stroke-width="0.6"/>
<line x1="574" y1="258.8" x2="591" y2="258.8" stroke-width="0.7"/>
<line x1="543.2" y1="161.7" x2="543.2" y2="218.6" stroke-width="0.9"/>
<polygon points="543.2,179.6 542,171.6 544.5,171.6" fill="#000" stroke="none"/>
<polygon points="543.2,199.4 544.5,207.4 542,207.4" fill="#000" stroke="none"/>
<line x1="585.8" y1="143" x2="585.8" y2="258.4" stroke-width="0.9"/>
<polygon points="585.8,143.4 587,152.4 584.5,152.4" fill="#000" stroke="none"/>
<polygon points="585.8,196 584.5,187 587,187" fill="#000" stroke="none"/>
<polygon points="585.8,199.6 587,208.6 584.5,208.6" fill="#000" stroke="none"/>
<polygon points="585.8,258.4 584.5,249.4 587,249.4" fill="#000" stroke="none"/>
<text x="538" y="190.4" font-size="11.5" text-anchor="middle" transform="rotate(-82 538 190.4)">10</text>
<text x="583" y="185" font-size="13" text-anchor="start" transform="rotate(-90 583 185)"><tspan font-family="Liberation Serif, serif" font-size="14">l</tspan><tspan font-size="10" dx="0.8" dy="0.6" letter-spacing="0.9">к,с</tspan></text>
<text x="583" y="238.4" font-size="13" text-anchor="start" transform="rotate(-90 583 238.4)"><tspan font-family="Liberation Serif, serif" font-size="14">l</tspan><tspan font-size="10" dx="0.8" dy="0.6" letter-spacing="0.9">ш</tspan></text>
<text x="545" y="277" font-size="13.5" text-anchor="middle">е)</text>
<polygon points="142,345.1 215,327.1 213,318.9 140,336.9" fill="#fff" stroke-width="1.4"/>
<line x1="140.5" y1="339" x2="154.8" y2="335.4" stroke-width="0.6"/>
<line x1="161" y1="333.9" x2="188.8" y2="327.1" stroke-width="0.6"/>
<line x1="197.7" y1="324.9" x2="213.5" y2="321" stroke-width="0.6"/>
<line x1="141" y1="341" x2="156.9" y2="337.1" stroke-width="0.6"/>
<line x1="163.1" y1="335.5" x2="174.3" y2="332.8" stroke-width="0.6"/>
<line x1="181.7" y1="331" x2="208.2" y2="324.4" stroke-width="0.6"/>
<line x1="141.5" y1="343" x2="166.3" y2="336.9" stroke-width="0.6"/>
<line x1="176.1" y1="334.5" x2="191.6" y2="330.7" stroke-width="0.6"/>
<line x1="196.9" y1="329.4" x2="214.5" y2="325" stroke-width="0.6"/>
<line x1="141.7" y1="343.9" x2="214.7" y2="325.9" stroke-width="1.3"/>
<polygon points="214.9,326.4 227.9,323 226.1,316.2 213.1,319.6" fill="#fff" stroke-width="1.3"/>
<line x1="213.7" y1="321.9" x2="215.9" y2="321.3" stroke-width="0.6"/>
<line x1="217.6" y1="320.9" x2="220.8" y2="320" stroke-width="0.6"/>
<line x1="222.5" y1="319.6" x2="226.7" y2="318.5" stroke-width="0.6"/>
<line x1="214.3" y1="324.1" x2="216.7" y2="323.5" stroke-width="0.6"/>
<line x1="217.7" y1="323.2" x2="221.6" y2="322.2" stroke-width="0.6"/>
<line x1="222.9" y1="321.9" x2="226.1" y2="321.1" stroke-width="0.6"/>
<line x1="227.2" y1="320.7" x2="227.3" y2="320.7" stroke-width="0.6"/>
<line x1="214.6" y1="325.4" x2="227.6" y2="322" stroke-width="1.3"/>
<ellipse cx="214.4" cy="323.4" rx="2.4" ry="6.6" fill="#fff" stroke-width="1.2" transform="rotate(-14 214.4 323.4)"/>
<line x1="215.5" y1="330" x2="216.5" y2="334.6" stroke-width="1.3"/>
<line x1="213.6" y1="334.8" x2="218" y2="334.2" stroke-width="1.1"/>
<polygon points="128.9,348.5 141.9,345.5 140.1,337.7 127.1,340.7" fill="#fff" stroke-width="1.3"/>
<line x1="127.7" y1="343.3" x2="132.7" y2="342.1" stroke-width="0.6"/>
<line x1="134.6" y1="341.7" x2="137.3" y2="341.1" stroke-width="0.6"/>
<line x1="138.1" y1="340.9" x2="140.7" y2="340.3" stroke-width="0.6"/>
<line x1="128.3" y1="345.9" x2="131.8" y2="345.1" stroke-width="0.6"/>
<line x1="133.1" y1="344.8" x2="137.7" y2="343.7" stroke-width="0.6"/>
<line x1="139.6" y1="343.3" x2="141.3" y2="342.9" stroke-width="0.6"/>
<line x1="128.6" y1="347.4" x2="141.6" y2="344.4" stroke-width="1.3"/>
<ellipse cx="142" cy="342" rx="2.6" ry="6.6" fill="#fff" stroke-width="1.3" transform="rotate(-14 142 342)"/>
<line x1="143.5" y1="348.5" x2="144" y2="352.5" stroke-width="1.2"/>
<path d="M13,381 Q12,375 20,371.4 L62,363 L77,379.6 L77.6,385.4 L34,396.8 Q24,398.6 16,392 Q12.6,388 13,381 Z" fill="#fff" stroke-width="1.5"/>
<path d="M13,381 Q14,386 20,388.6 Q27,391.6 34,390.2 L77,379.6" fill="none" stroke-width="1.4"/>
<path d="M14,386 Q16,391 22,393.6 Q27,395.4 33,394.6" fill="none" stroke-width="1.8"/>
<path d="M62,363 L68,360 L84,376 L77,379.6" fill="#fff" stroke-width="1.1"/>
<line x1="22" y1="385" x2="34" y2="388" stroke-width="0.6"/>
<line x1="40" y1="387.4" x2="72" y2="379.4" stroke-width="0.6"/>
<ellipse cx="39" cy="378" rx="5.8" ry="4" fill="#fff" stroke-width="1.4" transform="rotate(-10 39 378)"/>
<path d="M34.6,376.6 L39,379 L43.6,376.6 M39,379 L39,381.6" fill="none" stroke-width="0.8"/>
<polygon points="68,361 72,355 84,351 137,351 138,362 137.6,369 133,372 119,374.5 113,370 107,373 101,380 81,382 75,375 69.6,369" fill="#fff" stroke-width="1.5"/>
<line x1="81" y1="376" x2="101" y2="374" stroke-width="1.0"/>
<line x1="113" y1="366" x2="135" y2="364" stroke-width="1.0"/>
<line x1="76" y1="377" x2="100" y2="381.4" stroke-width="1.8"/>
<line x1="113" y1="371.6" x2="133" y2="372.4" stroke-width="1.6"/>
<line x1="88" y1="376" x2="88" y2="380" stroke-width="0.9"/>
<line x1="94" y1="375.5" x2="94" y2="379.5" stroke-width="0.9"/>
<line x1="120" y1="368" x2="120" y2="372" stroke-width="0.9"/>
<line x1="127" y1="367" x2="127" y2="371" stroke-width="0.9"/>
<path d="M70.6,359.6 Q68,364 71,368.6 L76.6,367.4 Q79.6,362 76.6,357.6 Z" fill="#fff" stroke-width="1.1"/>
<polygon points="72.6,361.4 76,360.6 76.6,364.6 73,365.6" fill="#333" stroke-width="0.8"/>
<polygon points="85.2,366 88,366 88,370 85.2,370" fill="#fff" stroke-width="0.9"/>
<polygon points="116.2,358.6 119,358.6 119,362.6 116.2,362.6" fill="#fff" stroke-width="0.9"/>
<path d="M72,357 Q75,362 86,363.5 Q95,365 102,359.5 L102,364 Q91,369 79,366 Z" fill="#222" stroke-width="0.8"/>
<path d="M71,352 L74,344 Q82,339 91,343 L101.8,349 L101,354.7 Q93,360.5 85,359 Q75,357 71,352 Z" fill="#fff" stroke-width="1.4"/>
<path d="M71,352 Q75,357 85,359 Q93,360.5 101,354.7 L102,359.5 Q95,365 86,363.5 Q75,362 71.5,357 Z" fill="#fff" stroke-width="1.4"/>
<line x1="77" y1="356.9" x2="77" y2="359.9" stroke-width="0.5"/>
<line x1="81.1" y1="358.2" x2="81.1" y2="361.2" stroke-width="0.5"/>
<line x1="85.2" y1="359.6" x2="85.2" y2="362.6" stroke-width="0.5"/>
<line x1="89.2" y1="359.1" x2="89.2" y2="362.1" stroke-width="0.5"/>
<line x1="93.2" y1="357.8" x2="93.2" y2="360.8" stroke-width="0.5"/>
<line x1="97.3" y1="356.4" x2="97.3" y2="359.4" stroke-width="0.5"/>
<path d="M78.3,337.3 L78.3,329.6 Q80.8,327 83.3,329.6 L83.3,337.3 Z" fill="#fff" stroke-width="1.25"/>
<line x1="80.1" y1="330.5" x2="80.1" y2="337.3" stroke-width="0.6"/>
<path d="M78.3,331.1 Q80.8,332.9 83.3,331.1" fill="none" stroke-width="0.7"/>
<polygon points="74.9,337.3 78.4,335.1 83.2,335.1 86.7,337.3 86.7,343.2 83.2,346.1 78.4,346.1 74.9,343.2" fill="#fff" stroke-width="1.25"/>
<polyline points="74.9,337.3 78.4,339.5 83.2,339.5 86.7,337.3" fill="none" stroke-width="1.125"/>
<line x1="78.4" y1="339.5" x2="78.4" y2="346.1" stroke-width="1.125"/>
<line x1="83.2" y1="339.5" x2="83.2" y2="346.1" stroke-width="1.125"/>
<polygon points="74.9,337.3 78.4,339.5 78.4,346.1 74.9,343.2" fill="#555" stroke-width="1.25"/>
<path d="M90,344.4 L90,336.7 Q92.5,334.1 95,336.7 L95,344.4 Z" fill="#fff" stroke-width="1.25"/>
<line x1="91.8" y1="337.6" x2="91.8" y2="344.4" stroke-width="0.6"/>
<path d="M90,338.2 Q92.5,340 95,338.2" fill="none" stroke-width="0.7"/>
<polygon points="86.6,344.4 90.1,342.2 94.9,342.2 98.4,344.4 98.4,350.3 94.9,353.2 90.1,353.2 86.6,350.3" fill="#fff" stroke-width="1.25"/>
<polyline points="86.6,344.4 90.1,346.6 94.9,346.6 98.4,344.4" fill="none" stroke-width="1.125"/>
<line x1="90.1" y1="346.6" x2="90.1" y2="353.2" stroke-width="1.125"/>
<line x1="94.9" y1="346.6" x2="94.9" y2="353.2" stroke-width="1.125"/>
<polygon points="86.6,344.4 90.1,346.6 90.1,353.2 86.6,350.3" fill="#555" stroke-width="1.25"/>
<path d="M102,350.4 Q105,355.4 116,356.9 Q125,358.4 132,352.9 L132,357.4 Q121,362.4 109,359.4 Z" fill="#222" stroke-width="0.8"/>
<path d="M101,345.4 L104,337.4 Q112,332.4 121,336.4 L131.8,342.4 L131,348.1 Q123,353.9 115,352.4 Q105,350.4 101,345.4 Z" fill="#fff" stroke-width="1.4"/>
<path d="M101,345.4 Q105,350.4 115,352.4 Q123,353.9 131,348.1 L132,352.9 Q125,358.4 116,356.9 Q105,355.4 101.5,350.4 Z" fill="#fff" stroke-width="1.4"/>
<line x1="107" y1="350.2" x2="107" y2="353.2" stroke-width="0.5"/>
<line x1="111.1" y1="351.6" x2="111.1" y2="354.6" stroke-width="0.5"/>
<line x1="115.2" y1="352.9" x2="115.2" y2="355.9" stroke-width="0.5"/>
<line x1="119.2" y1="352.5" x2="119.2" y2="355.5" stroke-width="0.5"/>
<line x1="123.2" y1="351.1" x2="123.2" y2="354.1" stroke-width="0.5"/>
<line x1="127.3" y1="349.8" x2="127.3" y2="352.8" stroke-width="0.5"/>
<path d="M107.9,330.5 L107.9,322.8 Q110.4,320.2 112.9,322.8 L112.9,330.5 Z" fill="#fff" stroke-width="1.25"/>
<line x1="109.7" y1="323.7" x2="109.7" y2="330.5" stroke-width="0.6"/>
<path d="M107.9,324.3 Q110.4,326.1 112.9,324.3" fill="none" stroke-width="0.7"/>
<polygon points="104.5,330.5 108,328.3 112.8,328.3 116.3,330.5 116.3,336.4 112.8,339.3 108,339.3 104.5,336.4" fill="#fff" stroke-width="1.25"/>
<polyline points="104.5,330.5 108,332.7 112.8,332.7 116.3,330.5" fill="none" stroke-width="1.125"/>
<line x1="108" y1="332.7" x2="108" y2="339.3" stroke-width="1.125"/>
<line x1="112.8" y1="332.7" x2="112.8" y2="339.3" stroke-width="1.125"/>
<polygon points="104.5,330.5 108,332.7 108,339.3 104.5,336.4" fill="#555" stroke-width="1.25"/>
<path d="M119.7,338.1 L119.7,330.4 Q122.2,327.8 124.7,330.4 L124.7,338.1 Z" fill="#fff" stroke-width="1.25"/>
<line x1="121.5" y1="331.3" x2="121.5" y2="338.1" stroke-width="0.6"/>
<path d="M119.7,331.9 Q122.2,333.7 124.7,331.9" fill="none" stroke-width="0.7"/>
<polygon points="116.3,338.1 119.8,335.9 124.6,335.9 128.1,338.1 128.1,344 124.6,346.9 119.8,346.9 116.3,344" fill="#fff" stroke-width="1.25"/>
<polyline points="116.3,338.1 119.8,340.3 124.6,340.3 128.1,338.1" fill="none" stroke-width="1.125"/>
<line x1="119.8" y1="340.3" x2="119.8" y2="346.9" stroke-width="1.125"/>
<line x1="124.6" y1="340.3" x2="124.6" y2="346.9" stroke-width="1.125"/>
<polygon points="116.3,338.1 119.8,340.3 119.8,346.9 116.3,344" fill="#555" stroke-width="1.25"/>
<line x1="54.8" y1="318" x2="54.8" y2="374" stroke-width="0.9"/>
<circle cx="55.6" cy="374.4" r="1.4" fill="#000" stroke="none"/>
<line x1="128.6" y1="315" x2="128.6" y2="340" stroke-width="0.9"/>
<line x1="138.4" y1="295" x2="138.4" y2="337" stroke-width="0.9"/>
<line x1="213" y1="277" x2="213" y2="317" stroke-width="0.9"/>
<line x1="55" y1="322" x2="138.4" y2="299" stroke-width="0.9"/>
<polygon points="55,322 65.2,317.6 66,320.5" fill="#000" stroke="none"/>
<polygon points="138.4,299 128.2,303.4 127.4,300.5" fill="#000" stroke="none"/>
<line x1="138.4" y1="298.2" x2="213" y2="280.2" stroke-width="0.9"/>
<polygon points="138.4,298.2 148.7,294.2 149.4,297.1" fill="#000" stroke="none"/>
<polygon points="213,280.2 202.7,284.2 202,281.3" fill="#000" stroke="none"/>
<line x1="114" y1="323.4" x2="128.6" y2="319.6" stroke-width="0.9"/>
<polygon points="128.6,319.6 122.7,322.5 122,320.1" fill="#000" stroke="none"/>
<line x1="138.4" y1="317" x2="160" y2="311" stroke-width="0.9"/>
<polygon points="138.4,317 144.3,314.1 145,316.5" fill="#000" stroke="none"/>
<text x="85.6" y="310.6" font-size="13" text-anchor="start" transform="rotate(-14 85.6 310.6)"><tspan font-family="Liberation Serif, serif" font-size="14">l</tspan><tspan font-size="10" dx="0.8" dy="0.6" letter-spacing="0.9">к,с</tspan></text>
<text x="164.6" y="289" font-size="13" text-anchor="start" transform="rotate(-13 164.6 289)"><tspan font-family="Liberation Serif, serif" font-size="14">l</tspan><tspan font-size="10" dx="0.8" dy="0.6" letter-spacing="0.9">ш</tspan></text>
<text x="152.6" y="309" font-size="12" text-anchor="middle">10</text>
<text x="185" y="375.6" font-size="13" text-anchor="middle">ж)</text>
<path d="M355.8,320 L355.8,284.6 Q356.6,282.6 359,283 Q365,285 370,290 Q377,298 386,299 Q396,300 402,304 Q412,312 427.4,317 L428,400 Q420,399 414,395 Q404,388 392,385.6 Q380,384 372,379 Q364,375.4 356.8,376 L356.8,359" fill="none" stroke-width="1.45"/>
<polygon points="354.7,320.9 376.6,316.9 401.5,340.8 401.5,347.4 330,364.4 324.8,357.6 371.8,345" fill="#fff" stroke-width="1.45"/>
<line x1="371.6" y1="345" x2="401.5" y2="340.8" stroke-width="1.45"/>
<path d="M231.4,345 L351.3,319.1 L370.5,339 L371.8,345 L243,375.5 L230.2,357.4 Q229.4,351 231.4,345 Z" fill="#fff" stroke-width="1.45"/>
<line x1="244.8" y1="368.6" x2="243" y2="375.5" stroke-width="1.45"/>
<path d="M231.4,345 Q236.4,346.4 237.6,353 Q238,358 244.8,368.6" fill="none" stroke-width="1.45"/>
<line x1="244.8" y1="368.6" x2="370.5" y2="339" stroke-width="1.45"/>
<line x1="226" y1="361.4" x2="382" y2="326.4" stroke-width="0.9"/>
<line x1="279" y1="318.6" x2="313" y2="352" stroke-width="0.9"/>
<line x1="290" y1="312.5" x2="330" y2="350" stroke-width="0.9"/>
<polygon points="324.8,331 330.8,326.6 342.8,326.6 348.8,331 348.8,336 342.8,341.4 330.8,341.4 324.8,336" fill="#fff" stroke-width="1.3"/>
<polyline points="324.8,331 330.8,335.4 342.8,335.4 348.8,331" fill="none" stroke-width="1.1"/>
<line x1="330.8" y1="335.4" x2="330.8" y2="341.4" stroke-width="1.1"/>
<line x1="342.8" y1="335.4" x2="342.8" y2="341.4" stroke-width="1.1"/>
<ellipse cx="336.8" cy="330.8" rx="7.4" ry="3" fill="none" stroke-width="0.9"/>
<path d="M331.8,331 L331.8,318.6 Q331.8,316.6 336.8,316.6 Q341.8,316.6 341.8,318.6 L341.8,331 Q336.8,333.4 331.8,331 Z" fill="#fff" stroke-width="1.3"/>
<path d="M331.8,320.2 Q336.8,322.6 341.8,320.2" fill="none" stroke-width="0.9"/>
<line x1="335.2" y1="322" x2="335.2" y2="331.6" stroke-width="0.8"/>
<line x1="338.2" y1="322.2" x2="338.2" y2="331.8" stroke-width="0.7"/>
<line x1="335.2" y1="326.6" x2="338.2" y2="326.6" stroke-width="0.7"/>
<line x1="242.4" y1="300" x2="242.4" y2="369" stroke-width="0.9"/>
<line x1="304" y1="285" x2="304" y2="340" stroke-width="0.9"/>
<circle cx="306" cy="340.8" r="1.5" fill="#000" stroke="none"/>
<line x1="370.6" y1="275" x2="370.6" y2="330" stroke-width="0.9"/>
<line x1="242.4" y1="303" x2="304" y2="289.4" stroke-width="0.9"/>
<line x1="304" y1="289.4" x2="370.6" y2="276.2" stroke-width="0.9"/>
<polygon points="242.4,303 252.8,299.2 253.5,302.1" fill="#000" stroke="none"/>
<polygon points="304,289.4 293.6,293.2 292.9,290.3" fill="#000" stroke="none"/>
<polygon points="304,289.4 314.5,285.8 315.1,288.7" fill="#000" stroke="none"/>
<polygon points="370.6,276.2 360.1,279.8 359.5,276.9" fill="#000" stroke="none"/>
<line x1="265" y1="322" x2="314" y2="311" stroke-width="0.9"/>
<polygon points="280.4,318.6 274.3,321.2 273.8,318.8" fill="#000" stroke="none"/>
<polygon points="292.6,315.8 298.7,313.2 299.2,315.6" fill="#000" stroke="none"/>
<line x1="364" y1="331.4" x2="379" y2="328.6" stroke-width="0.9"/>
<polygon points="371.2,330.4 369.2,325.7 371.4,325.3" fill="#000" stroke="none"/>
<line x1="371.2" y1="330" x2="399.5" y2="368.7" stroke-width="0.9"/>
<line x1="386" y1="332.6" x2="411.4" y2="365.7" stroke-width="0.9"/>
<line x1="379.6" y1="370.6" x2="426" y2="360.4" stroke-width="0.9"/>
<polygon points="397.6,366.6 391,369.3 390.5,366.9" fill="#000" stroke="none"/>
<polygon points="410.4,363.8 417,361.1 417.5,363.5" fill="#000" stroke="none"/>
<text x="268" y="295" font-size="13" text-anchor="start" transform="rotate(-8 268 295)"><tspan font-family="Liberation Serif, serif" font-size="14">l</tspan><tspan font-size="10" dx="0.8" dy="0.6" letter-spacing="0.9">ш</tspan></text>
<text x="325.6" y="282.6" font-size="13" text-anchor="start" transform="rotate(-8 325.6 282.6)"><tspan font-family="Liberation Serif, serif" font-size="14">l</tspan><tspan font-size="10" dx="0.8" dy="0.6" letter-spacing="0.9">к,с</tspan></text>
<text x="281.6" y="312.6" font-size="12.5" text-anchor="middle" transform="rotate(-6 281.6 312.6)">5</text>
<text x="408.6" y="359.4" font-size="12.5" text-anchor="middle" transform="rotate(22 408.6 359.4)">5</text>
<text x="326.6" y="389.6" font-size="13.5" text-anchor="middle">з)</text>
<polygon points="568.9,309.5 594.9,300.3 591.1,289.7 565.1,298.9" fill="#fff" stroke-width="1.3"/>
<line x1="566.1" y1="301.6" x2="574.4" y2="298.6" stroke-width="0.6"/>
<line x1="578.7" y1="297.1" x2="588.8" y2="293.5" stroke-width="0.6"/>
<line x1="591.4" y1="292.6" x2="592.1" y2="292.4" stroke-width="0.6"/>
<line x1="567" y1="304.2" x2="578.6" y2="300.1" stroke-width="0.6"/>
<line x1="580.6" y1="299.4" x2="590.7" y2="295.8" stroke-width="0.6"/>
<line x1="592.1" y1="295.3" x2="593" y2="295" stroke-width="0.6"/>
<line x1="567.9" y1="306.8" x2="577.1" y2="303.6" stroke-width="0.6"/>
<line x1="581.1" y1="302.2" x2="591.2" y2="298.6" stroke-width="0.6"/>
<polygon points="590,290 591.6,288.6 596.4,299.6 595,300.6 594.6,297 592.6,296 592.8,293" fill="#fff" stroke-width="1.1"/>
<polygon points="479.4,362 488.8,362 488.8,398.4 479.4,397.6" fill="#fff" stroke-width="1.3"/>
<line x1="481.4" y1="380" x2="481.4" y2="397" stroke-width="0.7"/>
<line x1="486.8" y1="364" x2="486.8" y2="398" stroke-width="1.1"/>
<line x1="479.4" y1="368.6" x2="488.8" y2="369" stroke-width="1.0"/>
<line x1="479.4" y1="370.6" x2="488.8" y2="371" stroke-width="1.0"/>
<line x1="479.4" y1="372.6" x2="488.8" y2="373" stroke-width="1.0"/>
<line x1="479.4" y1="374.6" x2="488.8" y2="375" stroke-width="1.0"/>
<line x1="479.4" y1="376.6" x2="488.8" y2="377" stroke-width="1.0"/>
<polygon points="479.4,366 483.4,366 483.4,378 479.4,378" fill="#333" stroke-width="0.8"/>
<ellipse cx="491" cy="364" rx="2.8" ry="2.6" fill="#fff" stroke-width="1.0"/>
<path d="M456,348 Q456.4,342.6 463,339.4 Q468,336.6 474,334.6 L495.8,327.8 L515,344.9 L515,349 L492.6,360.8 Q484,364.6 475.6,365.1 Q466,364.6 460,358.6 Q456,354 456,348 Z" fill="#fff" stroke-width="1.4"/>
<path d="M457,349 Q459,353.6 464,355.6 Q470,358.6 476.6,358.6 Q484,358 492,354.6 L514,344.6" fill="none" stroke-width="1.3"/>
<path d="M456.6,348.6 Q458.6,354 464,355.8 Q469,358 474,358.4 L474,364.6 Q466,364.2 460.4,358.8 Q456.4,354.6 456.6,348.6 Z" fill="#2a2a2a" stroke-width="1.0"/>
<path d="M474,361.6 Q482,361.4 490,358.4" fill="none" stroke-width="1.6"/>
<line x1="497" y1="331" x2="512.6" y2="345" stroke-width="0.9"/>
<polygon points="503,327 508,321 520,317 574,316 576,323 575,331 568,336 552,338 546,334 540,338 534,345 516,346 508,339 504,333" fill="#fff" stroke-width="1.5"/>
<line x1="516" y1="341" x2="534" y2="339" stroke-width="1.0"/>
<line x1="548" y1="330" x2="572" y2="327" stroke-width="1.0"/>
<line x1="510" y1="341" x2="533" y2="345.4" stroke-width="1.8"/>
<line x1="547" y1="336" x2="570" y2="336" stroke-width="1.6"/>
<line x1="522" y1="341" x2="522" y2="344.6" stroke-width="0.9"/>
<line x1="528" y1="340.4" x2="528" y2="344" stroke-width="0.9"/>
<line x1="556" y1="331.6" x2="556" y2="335.2" stroke-width="0.9"/>
<line x1="563" y1="330.6" x2="563" y2="334.2" stroke-width="0.9"/>
<path d="M504.6,326 Q502,330 505,334.6 L511,333.4 Q513.6,328 511,323.6 Z" fill="#fff" stroke-width="1.1"/>
<polygon points="506.6,327.6 510,326.8 510.6,330.6 507,331.6" fill="#333" stroke-width="0.8"/>
<polygon points="529.2,328.6 532,328.6 532,332.6 529.2,332.6" fill="#fff" stroke-width="0.9"/>
<polygon points="558.6,321.6 561.4,321.6 561.4,325.6 558.6,325.6" fill="#fff" stroke-width="0.9"/>
<path d="M509,320 Q512,325 523,326.5 Q532,328 539,322.5 L539,327 Q528,332 516,329 Z" fill="#222" stroke-width="0.8"/>
<path d="M508,315 L511,307 Q519,302 528,306 L538.8,312 L538,317.7 Q530,323.5 522,322 Q512,320 508,315 Z" fill="#fff" stroke-width="1.4"/>
<path d="M508,315 Q512,320 522,322 Q530,323.5 538,317.7 L539,322.5 Q532,328 523,326.5 Q512,325 508.5,320 Z" fill="#fff" stroke-width="1.4"/>
<line x1="514" y1="319.9" x2="514" y2="322.9" stroke-width="0.5"/>
<line x1="518.1" y1="321.2" x2="518.1" y2="324.2" stroke-width="0.5"/>
<line x1="522.1" y1="322.6" x2="522.1" y2="325.6" stroke-width="0.5"/>
<line x1="526.2" y1="322.1" x2="526.2" y2="325.1" stroke-width="0.5"/>
<line x1="530.2" y1="320.8" x2="530.2" y2="323.8" stroke-width="0.5"/>
<line x1="534.3" y1="319.4" x2="534.3" y2="322.4" stroke-width="0.5"/>
<path d="M515.5,299.7 L515.5,292 Q518,289.4 520.5,292 L520.5,299.7 Z" fill="#fff" stroke-width="1.25"/>
<line x1="517.3" y1="292.9" x2="517.3" y2="299.7" stroke-width="0.6"/>
<path d="M515.5,293.5 Q518,295.3 520.5,293.5" fill="none" stroke-width="0.7"/>
<polygon points="512.1,299.7 515.6,297.5 520.4,297.5 523.9,299.7 523.9,305.6 520.4,308.5 515.6,308.5 512.1,305.6" fill="#fff" stroke-width="1.25"/>
<polyline points="512.1,299.7 515.6,301.9 520.4,301.9 523.9,299.7" fill="none" stroke-width="1.125"/>
<line x1="515.6" y1="301.9" x2="515.6" y2="308.5" stroke-width="1.125"/>
<line x1="520.4" y1="301.9" x2="520.4" y2="308.5" stroke-width="1.125"/>
<polygon points="512.1,299.7 515.6,301.9 515.6,308.5 512.1,305.6" fill="#555" stroke-width="1.25"/>
<path d="M526.1,308.1 L526.1,300.4 Q528.6,297.8 531.1,300.4 L531.1,308.1 Z" fill="#fff" stroke-width="1.25"/>
<line x1="527.9" y1="301.3" x2="527.9" y2="308.1" stroke-width="0.6"/>
<path d="M526.1,301.9 Q528.6,303.7 531.1,301.9" fill="none" stroke-width="0.7"/>
<polygon points="522.7,308.1 526.2,305.9 531,305.9 534.5,308.1 534.5,314 531,316.9 526.2,316.9 522.7,314" fill="#fff" stroke-width="1.25"/>
<polyline points="522.7,308.1 526.2,310.3 531,310.3 534.5,308.1" fill="none" stroke-width="1.125"/>
<line x1="526.2" y1="310.3" x2="526.2" y2="316.9" stroke-width="1.125"/>
<line x1="531" y1="310.3" x2="531" y2="316.9" stroke-width="1.125"/>
<polygon points="522.7,308.1 526.2,310.3 526.2,316.9 522.7,314" fill="#555" stroke-width="1.25"/>
<path d="M538.6,312 Q541.6,317 552.6,318.5 Q561.6,320 568.6,314.5 L568.6,319 Q557.6,324 545.6,321 Z" fill="#222" stroke-width="0.8"/>
<path d="M537.6,307 L540.6,299 Q548.6,294 557.6,298 L568.4,304 L567.6,309.7 Q559.6,315.5 551.6,314 Q541.6,312 537.6,307 Z" fill="#fff" stroke-width="1.4"/>
<path d="M537.6,307 Q541.6,312 551.6,314 Q559.6,315.5 567.6,309.7 L568.6,314.5 Q561.6,320 552.6,318.5 Q541.6,317 538.1,312 Z" fill="#fff" stroke-width="1.4"/>
<line x1="543.6" y1="311.9" x2="543.6" y2="314.9" stroke-width="0.5"/>
<line x1="547.7" y1="313.2" x2="547.7" y2="316.2" stroke-width="0.5"/>
<line x1="551.8" y1="314.6" x2="551.8" y2="317.6" stroke-width="0.5"/>
<line x1="555.8" y1="314.1" x2="555.8" y2="317.1" stroke-width="0.5"/>
<line x1="559.9" y1="312.8" x2="559.9" y2="315.8" stroke-width="0.5"/>
<line x1="563.9" y1="311.4" x2="563.9" y2="314.4" stroke-width="0.5"/>
<path d="M544.1,293.1 L544.1,285.4 Q546.6,282.8 549.1,285.4 L549.1,293.1 Z" fill="#fff" stroke-width="1.25"/>
<line x1="545.9" y1="286.3" x2="545.9" y2="293.1" stroke-width="0.6"/>
<path d="M544.1,286.9 Q546.6,288.7 549.1,286.9" fill="none" stroke-width="0.7"/>
<polygon points="540.7,293.1 544.2,290.9 549,290.9 552.5,293.1 552.5,299 549,301.9 544.2,301.9 540.7,299" fill="#fff" stroke-width="1.25"/>
<polyline points="540.7,293.1 544.2,295.3 549,295.3 552.5,293.1" fill="none" stroke-width="1.125"/>
<line x1="544.2" y1="295.3" x2="544.2" y2="301.9" stroke-width="1.125"/>
<line x1="549" y1="295.3" x2="549" y2="301.9" stroke-width="1.125"/>
<polygon points="540.7,293.1 544.2,295.3 544.2,301.9 540.7,299" fill="#555" stroke-width="1.25"/>
<path d="M553.5,298.7 L553.5,291 Q556,288.4 558.5,291 L558.5,298.7 Z" fill="#fff" stroke-width="1.25"/>
<line x1="555.3" y1="291.9" x2="555.3" y2="298.7" stroke-width="0.6"/>
<path d="M553.5,292.5 Q556,294.3 558.5,292.5" fill="none" stroke-width="0.7"/>
<polygon points="550.1,298.7 553.6,296.5 558.4,296.5 561.9,298.7 561.9,304.6 558.4,307.5 553.6,307.5 550.1,304.6" fill="#fff" stroke-width="1.25"/>
<polyline points="550.1,298.7 553.6,300.9 558.4,300.9 561.9,298.7" fill="none" stroke-width="1.125"/>
<line x1="553.6" y1="300.9" x2="553.6" y2="307.5" stroke-width="1.125"/>
<line x1="558.4" y1="300.9" x2="558.4" y2="307.5" stroke-width="1.125"/>
<polygon points="550.1,298.7 553.6,300.9 553.6,307.5 550.1,304.6" fill="#555" stroke-width="1.25"/>
<path d="M479.3,335 L479.3,326 Q482.6,323 485.9,326 L485.9,335 Z" fill="#fff" stroke-width="1.3"/>
<path d="M479.3,328 Q482.6,330 485.9,328" fill="none" stroke-width="0.9"/>
<line x1="481.8" y1="329.6" x2="481.8" y2="333" stroke-width="0.7"/>
<polygon points="476.4,332.6 479.6,331 485.6,331 488.8,332.6 488.8,336 485.6,338 479.6,338 476.4,336" fill="#fff" stroke-width="1.2"/>
<line x1="479.6" y1="334" x2="479.6" y2="338" stroke-width="0.9"/>
<line x1="485.6" y1="334" x2="485.6" y2="338" stroke-width="0.9"/>
<polyline points="476.4,332.6 479.6,334.4 485.6,334.4 488.8,332.6" fill="none" stroke-width="0.9"/>
<polygon points="473.3,339.4 478.1,336.6 487.1,336.6 491.9,339.4 491.9,346.8 487.1,350.2 478.1,350.2 473.3,346.8" fill="#fff" stroke-width="1.3"/>
<polyline points="473.3,339.4 478.1,342.2 487.1,342.2 491.9,339.4" fill="none" stroke-width="1.1"/>
<line x1="478.1" y1="342.2" x2="478.1" y2="350.2" stroke-width="1.1"/>
<line x1="487.1" y1="342.2" x2="487.1" y2="350.2" stroke-width="1.1"/>
<polygon points="473.3,339.4 478.1,342.2 478.1,350.2 473.3,346.8" fill="#444" stroke-width="1.0"/>
<line x1="449" y1="354" x2="449" y2="404" stroke-width="0.9"/>
<polygon points="449,374 447.8,367 450.2,367" fill="#000" stroke="none"/>
<polygon points="449,386 450.2,393 447.8,393" fill="#000" stroke="none"/>
<line x1="449" y1="378" x2="480" y2="368" stroke-width="0.9"/>
<line x1="449" y1="387" x2="480" y2="377" stroke-width="0.9"/>
<line x1="499" y1="338" x2="520" y2="373" stroke-width="0.9"/>
<line x1="512" y1="346" x2="532" y2="368.6" stroke-width="0.9"/>
<line x1="498" y1="378" x2="544" y2="362" stroke-width="0.9"/>
<polygon points="518,371 511.8,374.5 511,372.1" fill="#000" stroke="none"/>
<polygon points="531,366.6 537.2,363.1 538,365.5" fill="#000" stroke="none"/>
<text x="529" y="361" font-size="12.5" text-anchor="middle" transform="rotate(28 529 361)">5</text>
<text x="554" y="385.4" font-size="13.5" text-anchor="middle">и)</text>
</g>
</svg>
</body></html>
